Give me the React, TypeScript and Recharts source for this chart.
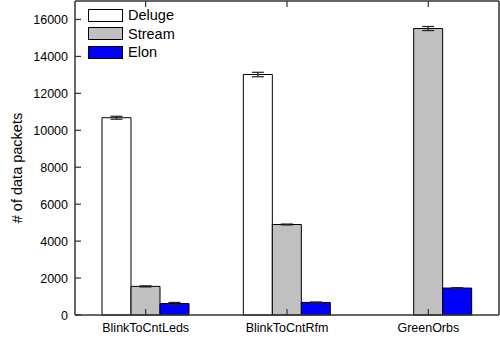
import { BarChart, Bar, XAxis, YAxis, ErrorBar } from 'recharts';

const categories = ['BlinkToCntLeds', 'BlinkToCntRfm', 'GreenOrbs'];
const deluge = [10680, 13020, 0];
const delugeErr = [80, 120, 0];
const stream = [1550, 4900, 15510];
const streamErr = [30, 25, 110];
const elon = [620, 680, 1460];
const elonErr = [60, 25, 25];
const yTicks = [0, 2000, 4000, 6000, 8000, 10000, 12000, 14000, 16000];

const series = [
  { key: 'Deluge', color: '#ffffff' },
  { key: 'Stream', color: '#c0c0c0' },
  { key: 'Elon', color: '#0000ff' },
];

const data = categories.map((name, i) => ({
  name,
  Deluge: deluge[i],
  DelugeErr: delugeErr[i],
  Stream: stream[i],
  StreamErr: streamErr[i],
  Elon: elon[i],
  ElonErr: elonErr[i],
}));

const FONT = '"Liberation Sans", Arial, sans-serif';
const AXIS = '#333333';

function LeftTick(props: any) {
  const { x, y, payload } = props;
  return (
    <g>
      <line x1={x} y1={y} x2={x + 6} y2={y} stroke={AXIS} strokeWidth={1.2} />
      <text x={x - 7} y={y} dy={4.5} textAnchor="end" fontSize={12.5} fontFamily={FONT} fill="#000">
        {payload.value}
      </text>
    </g>
  );
}

function RightTick(props: any) {
  const { x, y } = props;
  return <line x1={x} y1={y} x2={x - 6} y2={y} stroke={AXIS} strokeWidth={1.2} />;
}

function BottomTick(props: any) {
  const { x, y, payload } = props;
  return (
    <g>
      <line x1={x} y1={y} x2={x} y2={y - 6} stroke={AXIS} strokeWidth={1.2} />
      <text x={x} y={y + 17} textAnchor="middle" fontSize={12.5} fontFamily={FONT} fill="#000">
        {payload.value}
      </text>
    </g>
  );
}

function TopTick(props: any) {
  const { x, y } = props;
  return <line x1={x} y1={y} x2={x} y2={y + 6} stroke={AXIS} strokeWidth={1.2} />;
}

function LegendBox() {
  return (
    <div
      style={{
        position: 'absolute',
        left: 88,
        top: 6,
        fontFamily: FONT,
        fontSize: 14.5,
        lineHeight: '18.5px',
      }}
    >
      {series.map((s) => (
        <div key={s.key} style={{ display: 'flex', alignItems: 'center' }}>
          <div style={{ width: 33, height: 11, background: s.color, border: '1px solid #000', marginRight: 5 }} />
          <span>{s.key}</span>
        </div>
      ))}
    </div>
  );
}

export default function App() {
  return (
    <div style={{ position: 'absolute', left: 0, top: 0, width: 500, height: 341, background: '#fff' }}>
      <BarChart
        width={500}
        height={341}
        data={data}
        margin={{ top: 0, right: 0, left: 74, bottom: 0 }}
        barSize={29}
        barGap={0}
      >
        <XAxis
          dataKey="name"
          xAxisId="bottom"
          tick={<BottomTick />}
          tickLine={false}
          tickSize={0}
          tickMargin={0}
          axisLine={{ stroke: AXIS, strokeWidth: 1.5 }}
          interval={0}
          height={26}
        />
        <XAxis
          dataKey="name"
          xAxisId="top"
          orientation="top"
          tick={<TopTick />}
          tickLine={false}
          tickSize={0}
          tickMargin={0}
          axisLine={{ stroke: AXIS, strokeWidth: 1.5 }}
          interval={0}
          height={1}
        />
        <YAxis
          yAxisId="left"
          domain={[0, 17000]}
          ticks={yTicks}
          tick={<LeftTick />}
          tickLine={false}
          tickSize={0}
          tickMargin={0}
          axisLine={{ stroke: AXIS, strokeWidth: 1.5 }}
          width={1}
          label={{
            content: () => (
              <text
                x={22}
                y={168}
                transform="rotate(-90 22 168)"
                textAnchor="middle"
                fontSize={14.5}
                fontFamily={FONT}
                fill="#000"
              >
                # of data packets
              </text>
            ),
          }}
        />
        <YAxis
          yAxisId="right"
          orientation="right"
          domain={[0, 17000]}
          ticks={yTicks}
          tick={<RightTick />}
          tickLine={false}
          tickSize={0}
          tickMargin={0}
          axisLine={{ stroke: AXIS, strokeWidth: 1.5 }}
          width={1}
        />
        {series.map((s) => (
          <Bar
            key={s.key}
            dataKey={s.key}
            xAxisId="bottom"
            yAxisId="left"
            fill={s.color}
            stroke="#000"
            strokeWidth={1}
            isAnimationActive={false}
          >
            <ErrorBar dataKey={`${s.key}Err`} width={6} stroke="#222" strokeWidth={1.2} />
          </Bar>
        ))}
      </BarChart>
      <LegendBox />
    </div>
  );
}
